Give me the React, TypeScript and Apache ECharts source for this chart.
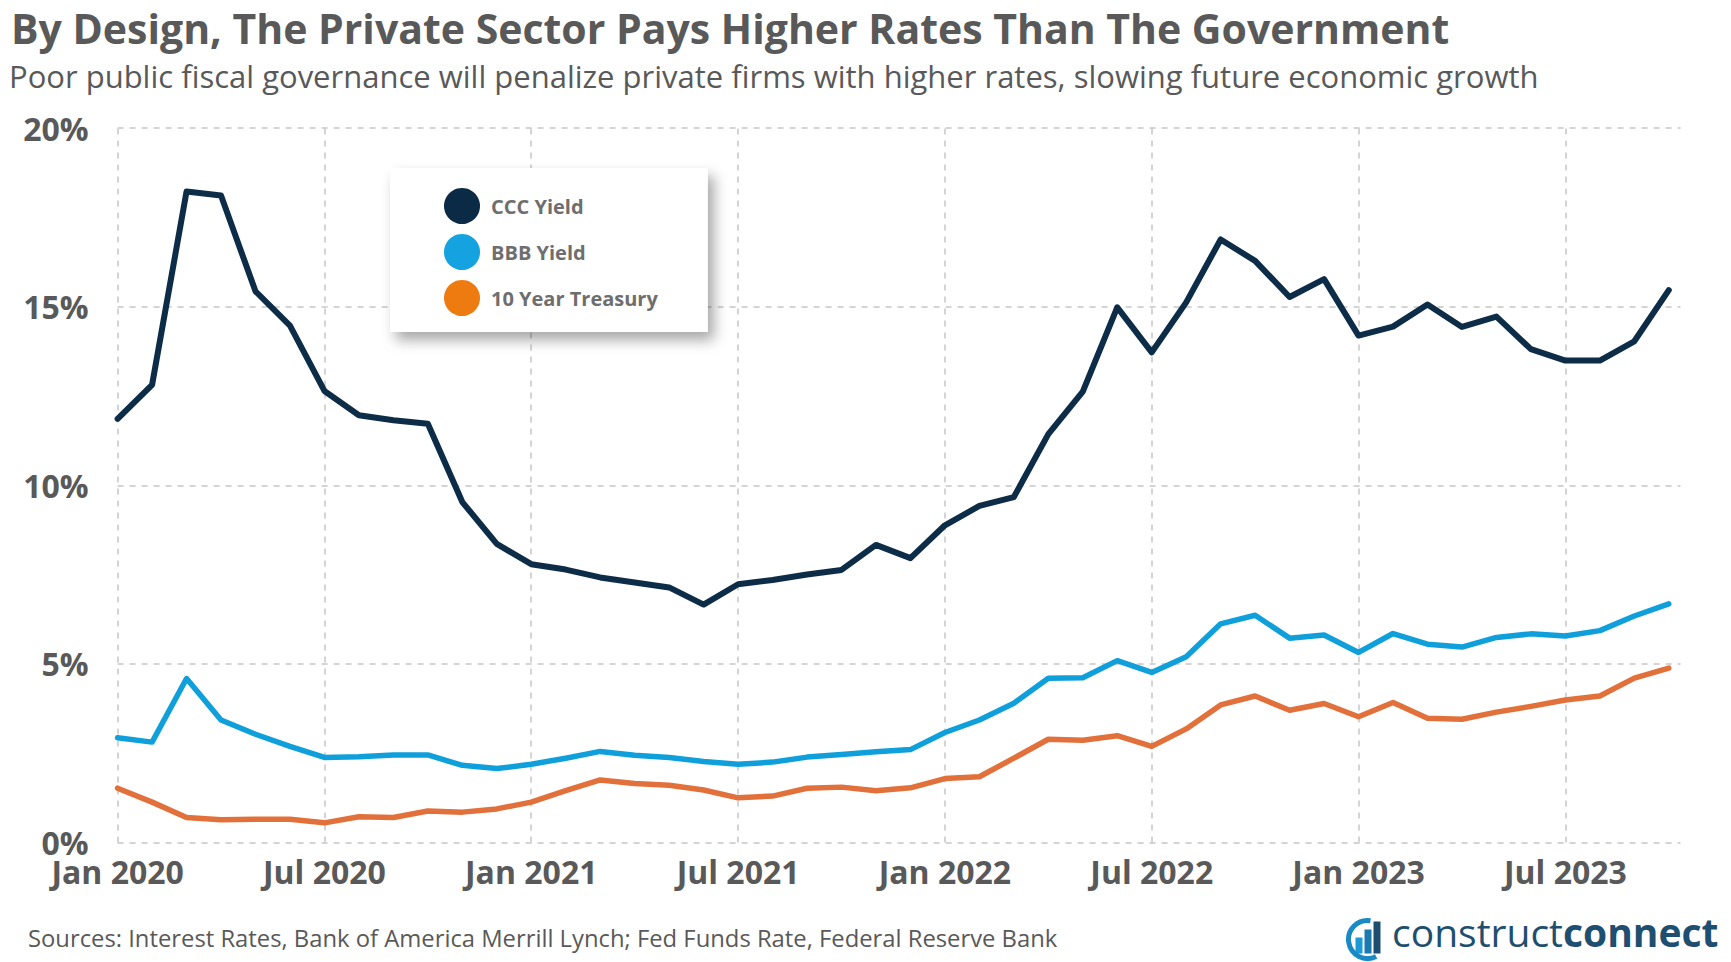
import React, { useEffect, useRef } from "react";
import * as echarts from "echarts";

const TITLE = "By Design, The Private Sector Pays Higher Rates Than The Government";
const SUBTITLE =
  "Poor public fiscal governance will penalize private firms with higher rates, slowing future economic growth";
const SOURCES =
  "Sources: Interest Rates, Bank of America Merrill Lynch; Fed Funds Rate, Federal Reserve Bank";

const months = [
  "Jan 2020", "Feb 2020", "Mar 2020", "Apr 2020", "May 2020", "Jun 2020",
  "Jul 2020", "Aug 2020", "Sep 2020", "Oct 2020", "Nov 2020", "Dec 2020",
  "Jan 2021", "Feb 2021", "Mar 2021", "Apr 2021", "May 2021", "Jun 2021",
  "Jul 2021", "Aug 2021", "Sep 2021", "Oct 2021", "Nov 2021", "Dec 2021",
  "Jan 2022", "Feb 2022", "Mar 2022", "Apr 2022", "May 2022", "Jun 2022",
  "Jul 2022", "Aug 2022", "Sep 2022", "Oct 2022", "Nov 2022", "Dec 2022",
  "Jan 2023", "Feb 2023", "Mar 2023", "Apr 2023", "May 2023", "Jun 2023",
  "Jul 2023", "Aug 2023", "Sep 2023", "Oct 2023",
];

const cccYield = [
  11.86, 12.81, 18.22, 18.11, 15.43, 14.47, 12.64, 11.96, 11.82, 11.72, 9.53, 8.36,
  7.79, 7.64, 7.42, 7.28, 7.14, 6.66, 7.23, 7.35, 7.5, 7.63, 8.33, 7.96,
  8.88, 9.42, 9.67, 11.43, 12.62, 14.98, 13.72, 15.12, 16.88, 16.28, 15.27, 15.77,
  14.19, 14.44, 15.06, 14.43, 14.72, 13.81, 13.49, 13.49, 14.03, 15.46,
];

const bbbYield = [
  2.93, 2.81, 4.59, 3.43, 3.03, 2.69, 2.38, 2.4, 2.45, 2.45, 2.16, 2.07,
  2.19, 2.36, 2.55, 2.44, 2.38, 2.27, 2.19, 2.25, 2.39, 2.46, 2.54, 2.6,
  3.08, 3.43, 3.9, 4.6, 4.61, 5.09, 4.76, 5.2, 6.12, 6.36, 5.72, 5.81,
  5.32, 5.85, 5.55, 5.47, 5.74, 5.84, 5.78, 5.93, 6.34, 6.68,
];

const treasury10y = [
  1.52, 1.13, 0.7, 0.64, 0.65, 0.65, 0.55, 0.72, 0.7, 0.88, 0.85, 0.94,
  1.13, 1.45, 1.75, 1.65, 1.6, 1.47, 1.25, 1.3, 1.52, 1.55, 1.45, 1.53,
  1.79, 1.84, 2.36, 2.89, 2.86, 2.99, 2.69, 3.18, 3.85, 4.1, 3.7, 3.89,
  3.52, 3.92, 3.48, 3.45, 3.65, 3.81, 3.99, 4.1, 4.6, 4.88,
];

const seriesNames = ["CCC Yield", "BBB Yield", "10 Year Treasury"];
const lineColors = ["#0c2c47", "#0f9fdb", "#e2703a"];
const lineWidths = [6, 5.5, 5.5];
const legendColors = ["#0a2a45", "#14a3e0", "#ee7b10"];
const yTicks = [0, 5, 10, 15, 20];

const FONT = "'Open Sans', 'Noto Sans', sans-serif";
const GREY = "#595959";

export default function App() {
  const ref = useRef<HTMLDivElement>(null);

  useEffect(() => {
    if (!ref.current) return;
    const chart = echarts.init(ref.current, undefined, { renderer: "svg" });

    const tickIdx = months
      .map((m, i) => (m.startsWith("Jan") || m.startsWith("Jul") ? i : -1))
      .filter((i) => i >= 0);

    const allSeries = [cccYield, bbbYield, treasury10y];

    const option: any = {
      animation: false,
      backgroundColor: "#ffffff",
      textStyle: { fontFamily: FONT },
      title: [
        {
          text: TITLE,
          left: 6,
          top: 2,
          textStyle: { fontFamily: FONT, fontSize: 41, fontWeight: "bold", color: GREY },
        },
        {
          text: SUBTITLE,
          left: 4,
          top: 55,
          textStyle: { fontFamily: FONT, fontSize: 31, fontWeight: "normal", color: GREY },
        },
        {
          text: SOURCES,
          left: 23,
          top: 921,
          textStyle: { fontFamily: FONT, fontSize: 23.8, fontWeight: "normal", color: GREY },
        },
      ],
      legend: {
        orient: "vertical",
        left: 390,
        top: 168,
        padding: [20, 50, 16, 54],
        itemWidth: 36,
        itemHeight: 36,
        itemGap: 10,
        icon: "circle",
        backgroundColor: "#ffffff",
        shadowBlur: 14,
        shadowOffsetX: 6,
        shadowOffsetY: 8,
        shadowColor: "rgba(0,0,0,0.35)",
        selectedMode: false,
        textStyle: {
          fontFamily: FONT,
          fontSize: 20,
          fontWeight: "bold",
          color: "#6e6e6e",
          padding: [0, 0, 0, 6],
        },
        data: seriesNames.map((n, i) => ({
          name: n,
          itemStyle: { color: legendColors[i], borderWidth: 0 },
        })),
      },
      grid: { left: 117.6, right: 50.5, top: 128, bottom: 119.5, containLabel: false },
      xAxis: {
        type: "value",
        min: 0,
        max: 45.34,
        interval: 6,
        axisLine: { show: false },
        axisTick: { show: false },
        splitLine: { show: false },
        axisLabel: {
          showMaxLabel: false,
          margin: 14,
          fontFamily: FONT,
          fontSize: 32,
          lineHeight: 30,
          fontWeight: "bold",
          color: GREY,
          formatter: (v: number) => (Number.isInteger(v) && v % 6 === 0 ? months[v] || "" : ""),
        },
      },
      yAxis: {
        type: "value",
        min: yTicks[0],
        max: yTicks[yTicks.length - 1],
        interval: 5,
        axisLine: { show: false },
        axisTick: { show: false },
        axisLabel: {
          margin: 29,
          fontFamily: FONT,
          fontSize: 32,
          lineHeight: 26,
          fontWeight: "bold",
          color: GREY,
          formatter: "{value}%",
        },
        splitLine: {
          show: true,
          lineStyle: { color: "#c6c6c6", width: 1.5, type: [6, 6] },
        },
      },
      series: allSeries.map((vals, si) => ({
        name: seriesNames[si],
        type: "line",
        showSymbol: false,
        symbol: "none",
        z: 10 - si,
        lineStyle: { color: lineColors[si], width: lineWidths[si], join: "round", cap: "round" },
        itemStyle: { color: lineColors[si] },
        data: vals.map((v, i) => [i, v]),
        markLine:
          si === 0
            ? {
                silent: true,
                symbol: ["none", "none"],
                label: { show: false },
                lineStyle: { color: "#c6c6c6", width: 1.5, type: [6, 6] },
                z: 1,
                data: tickIdx.map((i) => ({ xAxis: i })),
              }
            : undefined,
      })),
      graphic: [
        {
          type: "group",
          left: 1346,
          top: 918,
          children: [
            { type: "rect", shape: { x: 12, y: 20, width: 7, height: 16 }, style: { fill: "#1b9ad6" } },
            { type: "rect", shape: { x: 21, y: 12, width: 7, height: 24 }, style: { fill: "#1a79ad" } },
            { type: "rect", shape: { x: 30, y: 4, width: 7, height: 32 }, style: { fill: "#1d4e70" } },
            {
              type: "arc",
              shape: { cx: 24, cy: 22, r: 19, startAngle: Math.PI * 0.35, endAngle: Math.PI * 1.55 },
              style: { stroke: "#1b8ac4", lineWidth: 5, fill: "none" },
            },
          ],
        },
        {
          type: "text",
          left: 1392,
          top: 912,
          style: {
            text: "{a|construct}{b|connect}",
            rich: {
              a: { fontFamily: FONT, fontSize: 39, fontWeight: "normal", fill: "#1f4f70" },
              b: { fontFamily: FONT, fontSize: 39, fontWeight: "bold", fill: "#1f4f70" },
            },
          },
        },
      ],
    };

    chart.setOption(option);
    return () => chart.dispose();
  }, []);

  return (
    <div
      ref={ref}
      style={{ position: "fixed", left: 0, top: 0, width: 1731, height: 962, background: "#fff" }}
    />
  );
}
